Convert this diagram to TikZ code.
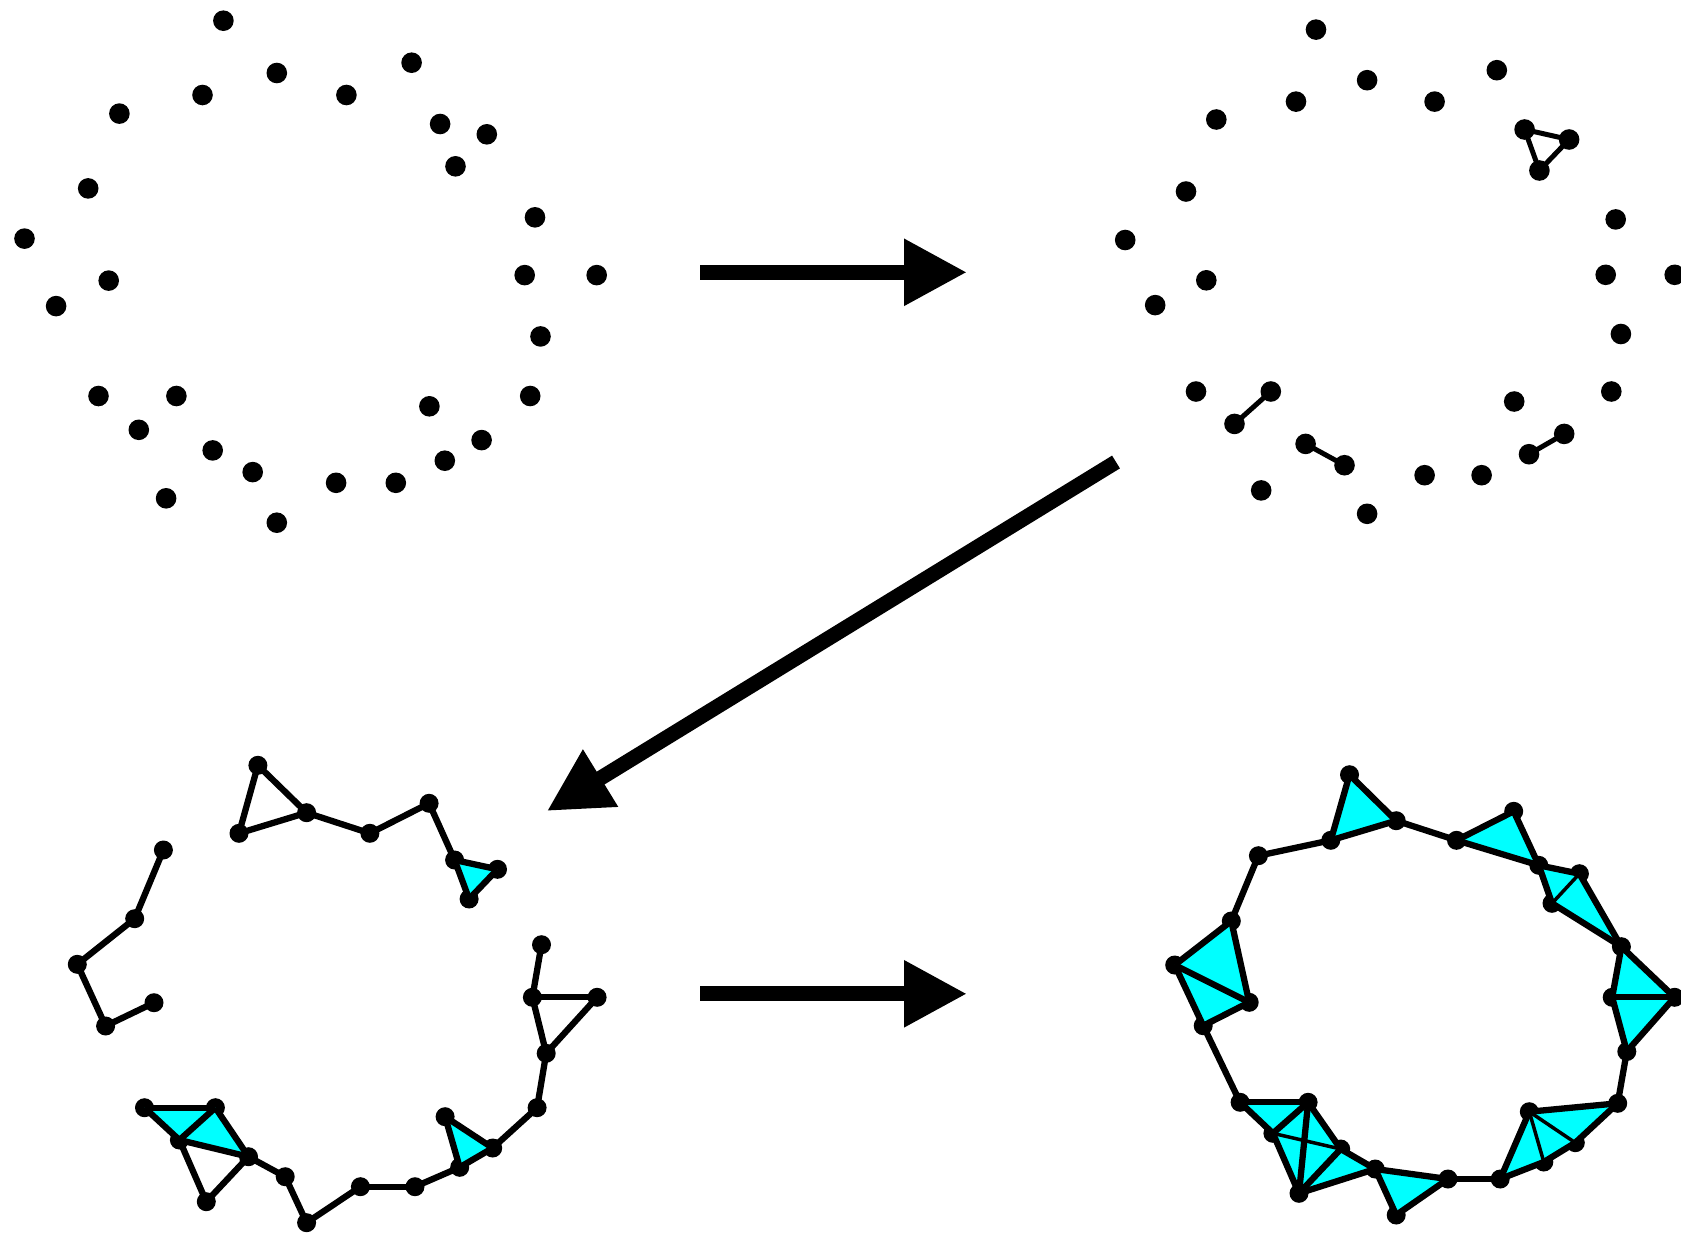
\documentclass[tikz,border=0pt]{standalone}
\usetikzlibrary{arrows.meta}
\definecolor{aquafill}{RGB}{0,255,255}
\begin{document}
\begin{tikzpicture}[x=0.1mm,y=-0.1mm,
  dotA/.style={circle, fill=black, inner sep=0pt, minimum size=2.06mm},
  dotB/.style={circle, fill=black, inner sep=0pt, minimum size=1.9mm},
  edgeA/.style={line width=0.5mm, line join=round},
  edgeB/.style={line width=0.63mm, line join=round},
  thinedge/.style={line width=0.35mm},
  face/.style={fill=aquafill},
  bigarrow/.style={line width=1.5mm, -{Triangle[length=6.3mm,width=6.3mm]}}]
\useasboundingbox (0,0) rectangle (1681,1234);
% ---------------- top-left panel ----------------
\foreach \n/\x/\y in {1/223.4/20.7,2/276.8/73.0,3/202.5/95.0,4/119.4/113.6,5/346.4/95.0,
  6/411.6/62.7,7/440.1/124.0,8/486.8/134.3,9/455.5/166.3,10/88.2/188.4,11/24.5/238.6,
  12/108.7/280.6,13/56.1/306.1,14/535.0/217.3,15/524.7/275.1,16/596.7/275.1,17/540.5/336.4,
  18/530.2/396.0,19/429.4/406.3,20/481.6/440.1,21/444.8/460.7,22/395.8/482.8,23/336.1/482.8,
  24/276.8/522.7,25/252.7/472.1,26/212.7/450.4,27/176.4/396.0,28/98.5/396.0,29/138.8/429.8,
  30/166.1/498.3}
  \node[dotA] (tl\n) at (\x,\y) {};
% ---------------- top-right panel ----------------
\foreach \n/\x/\y in {1/1316.0/29.6,2/1367.1/80.2,3/1296.0/101.6,4/1216.3/119.5,5/1434.6/101.6,
  6/1496.8/70.2,7/1524.6/129.5,8/1569.1/139.5,9/1539.4/170.5,10/1186.0/191.5,11/1125.2/240.0,
  12/1206.3/280.3,13/1155.2/305.1,14/1615.7/219.4,15/1605.7/274.8,16/1674.7/274.8,
  17/1620.9/334.0,18/1611.3/391.5,19/1514.2/401.5,20/1564.2/433.9,21/1529.0/454.2,
  22/1481.6/475.2,23/1424.6/475.2,24/1367.1/513.8,25/1305.6/443.9,26/1344.5/465.2,
  27/1261.2/490.4,28/1270.8/391.5,29/1234.5/423.9,30/1196.0/391.5}
  \node[dotA] (tr\n) at (\x,\y) {};
\draw[edgeA] (tr7.center) -- (tr8.center) -- (tr9.center) -- cycle;
\draw[edgeA] (tr20.center) -- (tr21.center);
\draw[edgeA] (tr25.center) -- (tr26.center);
\draw[edgeA] (tr28.center) -- (tr29.center);
% ---------------- bottom-left panel ----------------
\foreach \n/\x/\y in {A/257.9/765.3,B/306.6/812.7,C/239.0/833.3,D/369.9/833.3,E/429.1/803.3,
  F/454.6/860.0,G/497.5/869.3,H/469.1/899.0,I/163.4/850.0,J/134.7/918.7,K/77.3/964.3,
  L/105.6/1026.0,M/154.0/1002.7,N/541.5/944.7,O/532.4/997.3,P/597.1/997.3,Q/546.2/1053.3,
  R/537.1/1107.7,S/492.7/1148.0,T/445.1/1116.7,U/459.7/1167.3,V/415.0/1186.7,W/360.4/1186.7,
  X/306.6/1222.7,Y/285.2/1176.7,Z/248.5/1156.7,a/206.3/1201.7,b/179.4/1140.0,c/215.4/1107.7,
  d/144.5/1107.7}
  \node[dotB] (bl\n) at (\x,\y) {};
\fill[face] (blF.center) -- (blG.center) -- (blH.center) -- cycle;
\fill[face] (blS.center) -- (blT.center) -- (blU.center) -- cycle;
\fill[face] (bld.center) -- (blc.center) -- (blb.center) -- cycle;
\fill[face] (blc.center) -- (blb.center) -- (blZ.center) -- cycle;
\foreach \u/\v in {A/B,A/C,B/C,B/D,D/E,E/F,F/G,G/H,F/H,I/J,J/K,K/L,L/M,N/O,O/P,O/Q,P/Q,Q/R,
  R/S,S/T,T/U,S/U,U/V,V/W,W/X,X/Y,Y/Z,d/c,d/b,c/b,c/Z,b/Z,b/a,a/Z}
  \draw[edgeB] (bl\u.center) -- (bl\v.center);
% ---------------- bottom-right panel ----------------
\foreach \n/\x/\y in {p1/1349.5/774.7,p2/1396.2/820.7,p3/1330.8/840.3,p4/1258.4/855.7,
  p5/1456.5/840.3,p6/1513.7/811.3,p7/1538.8/865.3,p8/1579.4/873.7,p9/1552.0/903.3,
  p10/1621.4/946.7,p11/1612.2/997.3,p12/1674.6/997.3,p13/1626.8/1051.5,p14/1231.3/921.0,
  p15/1174.7/965.0,p16/1249.2/1002.3,p17/1203.2/1025.7,q2/1617.7/1103.3,q3/1529.3/1111.7,
  q4/1575.3/1142.7,q5/1543.8/1162.0,q6/1500.2/1179.0,q7/1448.0/1179.0,q8/1396.2/1215.0,
  q9/1375.2/1169.0,q10/1340.7/1149.0,q11/1299.0/1193.3,q12/1272.9/1133.3,q13/1308.1/1102.3,
  q14/1240.1/1102.3}
  \node[dotB] (br\n) at (\x,\y) {};
\foreach \u/\v/\w in {p1/p2/p3,p5/p6/p7,p7/p8/p9,p8/p9/p10,p10/p11/p12,p11/p12/p13,
  p14/p15/p16,p15/p16/p17,q2/q3/q4,q3/q4/q5,q3/q5/q6,q7/q8/q9,q9/q10/q11,q14/q12/q13,
  q12/q13/q10,q12/q10/q11}
  \fill[face] (br\u.center) -- (br\v.center) -- (br\w.center) -- cycle;
\foreach \u/\v in {p4/p3,p3/p1,p1/p2,p2/p3,p2/p5,p5/p6,p6/p7,p5/p7,p7/p8,p7/p9,p8/p10,
  p9/p10,p10/p11,p10/p12,p11/p12,p11/p13,p12/p13,p13/q2,q2/q3,q2/q4,q4/q5,q3/q6,q5/q6,
  q6/q7,q7/q8,q7/q9,q8/q9,q9/q10,q9/q11,q10/q11,q14/q13,q14/q12,q12/q13,q12/q11,q13/q11,
  q13/q10,q14/p17,p17/p15,p17/p16,p15/p16,p14/p15,p14/p16,p14/p4}
  \draw[edgeB] (br\u.center) -- (br\v.center);
\foreach \u/\v in {p8/p9,q3/q4,q3/q5,q12/q10}
  \draw[thinedge] (br\u.center) -- (br\v.center);
% ---------------- arrows ----------------
\coordinate (a1s) at (700,272.3);
\coordinate (a1e) at (967,272.3);
\coordinate (a2s) at (1116,462);
\coordinate (a2e) at (546.9,811);
\coordinate (a3s) at (700,993.8);
\coordinate (a3e) at (967,993.8);
\draw[bigarrow] (a1s) -- (a1e);
\draw[bigarrow] (a2s) -- (a2e);
\draw[bigarrow] (a3s) -- (a3e);
\end{tikzpicture}
\end{document}
